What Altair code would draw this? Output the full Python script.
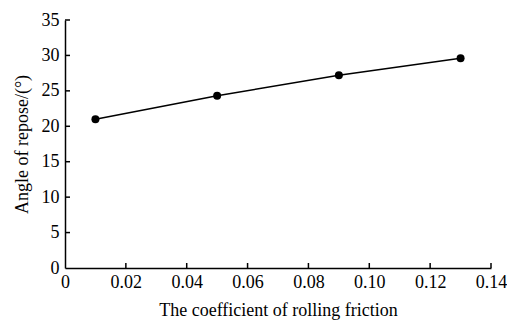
import altair as alt
import pandas as pd

friction = [0.01, 0.05, 0.09, 0.13]
angle = [21.0, 24.3, 27.2, 29.6]
x_ticks = [0, 0.02, 0.04, 0.06, 0.08, 0.10, 0.12, 0.14]
y_ticks = [0, 5, 10, 15, 20, 25, 30, 35]

df = pd.DataFrame({"f": friction, "a": angle})
xt = pd.DataFrame({"t": x_ticks[1:]})
yt = pd.DataFrame({"t": y_ticks[1:]})

FONT = "Liberation Serif"
xs = alt.Scale(domain=[0, 0.14], nice=False, zero=True)
ys = alt.Scale(domain=[0, 35], nice=False)

x_axis = alt.Axis(values=x_ticks, ticks=False, grid=False, domainColor="black", domainWidth=1.5,
                  labelExpr="datum.value == 0 ? '0' : format(datum.value, '.2f')",
                  labelFont=FONT, labelFontSize=18, labelColor="black", labelPadding=5,
                  labelOverlap=False, labelFlush=False,
                  title="The coefficient of rolling friction", titleFont=FONT, titleFontSize=18,
                  titleFontWeight="normal", titleColor="black", titlePadding=10)
y_axis = alt.Axis(values=y_ticks, ticks=False, grid=False, domainColor="black", domainWidth=1.5,
                  format="d", labelFont=FONT, labelFontSize=18, labelColor="black", labelPadding=6,
                  labelOverlap=False,
                  title="Angle of repose/(°)", titleFont=FONT, titleFontSize=18,
                  titleFontWeight="normal", titleColor="black", titlePadding=10)

X = alt.X("f:Q", scale=xs, axis=x_axis)
Y = alt.Y("a:Q", scale=ys, axis=y_axis)

line = alt.Chart(df).mark_line(color="black", strokeWidth=1.5).encode(x=X, y=Y)
pts = alt.Chart(df).mark_point(filled=True, color="black", size=64, opacity=1).encode(x=X, y=Y)

xtick = alt.Chart(xt).mark_rule(color="black", strokeWidth=1.5).encode(
    x=alt.X("t:Q", scale=xs, axis=x_axis), y=alt.value(248), y2=alt.value(243))
ytick = alt.Chart(yt).mark_rule(color="black", strokeWidth=1.5).encode(
    y=alt.Y("t:Q", scale=ys, axis=y_axis), x=alt.value(0), x2=alt.value(5))

chart = alt.layer(line, pts, xtick, ytick).properties(
    width=426, height=248,
    autosize=alt.AutoSizeParams(type="none"),
    padding={"left": 57, "top": 12, "right": 16, "bottom": 52},
).configure_view(stroke=None)

chart.save("out.html", embed_options={"renderer": "svg", "actions": False})
